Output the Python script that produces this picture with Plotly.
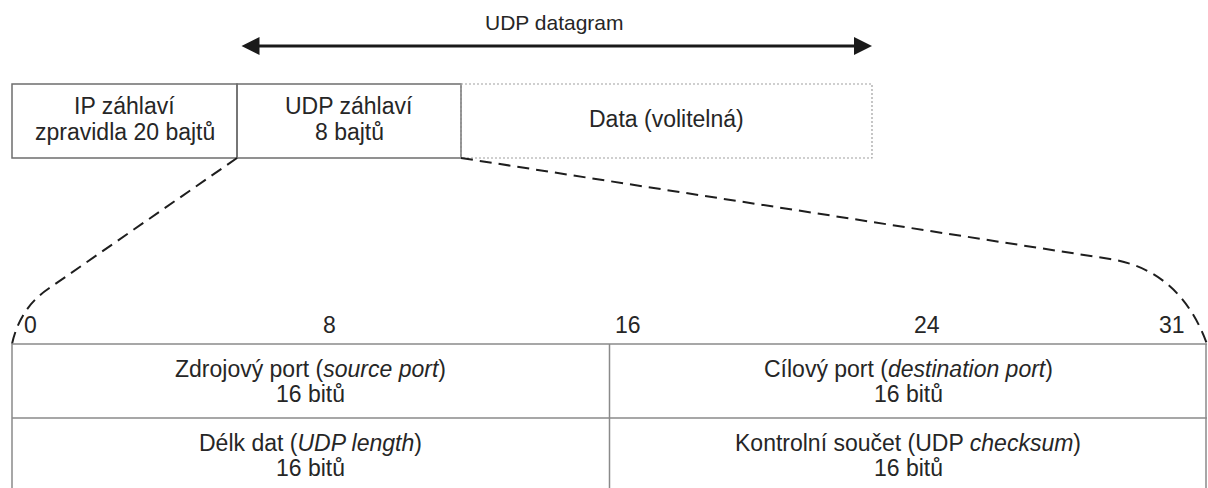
import plotly.graph_objects as go

# ---------------- data ----------------
datagram_label = "UDP datagram"
top_labels = [["IP záhlaví", "zpravidla 20 bajtů"], ["UDP záhlaví", "8 bajtů"], ["Data (volitelná)"]]
top_styles = ["solid", "solid", "dot"]
bit_ticks = [0, 8, 16, 24, 31]
word_bits = 32
field_bits = [16, 16]
row1_fields = [["Zdrojový port (<i>source port</i>)", "16 bitů"],
               ["Cílový port (<i>destination port</i>)", "16 bitů"]]
row2_fields = [["Délk dat (<i>UDP length</i>)", "16 bitů"],
               ["Kontrolní součet (UDP <i>checksum</i>)", "16 bitů"]]
rows = [row1_fields, row2_fields]

# ---------------- layout geometry (pixel canvas) ----------------
W, H = 1208, 488
top_edges = [12, 237, 461, 872]
top_y0, top_y1 = 84, 158
arrow_y = 46
table_x0, table_x1 = 12, 1207
table_top = 344
row_h = 74
tick_y = 325
FONT = "Liberation Sans, Arial, sans-serif"
TXT = "#262626"
FS = 23

def bx(bit):
    return table_x0 + bit / word_bits * (table_x1 - table_x0)

fig = go.Figure()
shapes = []
ann = []

# header text + arrow
ann.append(dict(x=554, y=22, text=datagram_label,
                showarrow=False, font=dict(size=21, color=TXT, family=FONT)))
ann.append(dict(x=top_edges[-1], y=arrow_y, ax=top_edges[1] + 3, ay=arrow_y, axref="x", ayref="y",
                xref="x", yref="y", text="", showarrow=True, arrowhead=2, arrowside="end+start",
                arrowsize=1.2, arrowwidth=3, arrowcolor="#1a1a1a", standoff=0, startstandoff=0))

# top boxes
for i, lines in enumerate(top_labels):
    x0, x1 = top_edges[i], top_edges[i + 1]
    if top_styles[i] == "solid":
        shapes.append(dict(type="rect", x0=x0, x1=x1, y0=top_y0, y1=top_y1,
                           line=dict(color="#6e6e6e", width=1.5)))
    else:
        shapes.append(dict(type="rect", x0=x0, x1=x1, y0=top_y0, y1=top_y1,
                           line=dict(color="#a0a0a0", width=1.2, dash="2px,2px")))
    cy = (top_y0 + top_y1) / 2
    n = len(lines)
    for j, t in enumerate(lines):
        yy = cy + (j - (n - 1) / 2) * 26 - 2
        ann.append(dict(x=(x0 + x1) / 2, y=yy, text=t, showarrow=False,
                        font=dict(size=FS, color=TXT, family=FONT)))

# dashed connector lines
dash_line = dict(color="#1e1e1e", width=2, dash="12px,7px")
shapes.append(dict(type="path", path=f"M {top_edges[1]} {top_y1} L 48 289 Q 20 308 {table_x0} {table_top}",
                   line=dash_line))
shapes.append(dict(type="path", path=f"M {top_edges[2]} {top_y1} L 1110 259 Q 1180 270 {table_x1} {table_top}",
                   line=dash_line))

# bit tick labels
for b in bit_ticks:
    if b == bit_ticks[-1]:
        ann.append(dict(x=bx(b + 0.5) - 1, y=tick_y, text=str(b), showarrow=False, xanchor="right",
                        font=dict(size=FS, color=TXT, family=FONT)))
    else:
        ann.append(dict(x=bx(b + 0.5), y=tick_y, text=str(b), showarrow=False,
                        font=dict(size=FS, color=TXT, family=FONT)))

# table
grid = dict(color="#8a8a8a", width=1.5)
bottom = H + 20
shapes.append(dict(type="line", x0=table_x0, x1=table_x1, y0=table_top, y1=table_top, line=grid))
for r in range(1, len(rows)):
    shapes.append(dict(type="line", x0=table_x0, x1=table_x1, y0=table_top + r * row_h,
                       y1=table_top + r * row_h, line=grid))
edges_bits = [0]
for fb in field_bits:
    edges_bits.append(edges_bits[-1] + fb)
for eb in edges_bits:
    xx = bx(eb)
    if eb == word_bits:
        xx -= 1
    shapes.append(dict(type="line", x0=xx, x1=xx, y0=table_top, y1=bottom, line=grid))

for r, fields in enumerate(rows):
    ry = table_top + r * row_h
    for c, lines in enumerate(fields):
        cx = (bx(edges_bits[c]) + bx(edges_bits[c + 1])) / 2
        for j, t in enumerate(lines):
            ann.append(dict(x=cx, y=ry + 25 + j * 25, text=t, showarrow=False,
                            font=dict(size=FS, color=TXT, family=FONT)))

fig.update_layout(
    width=W, height=H, margin=dict(l=0, r=0, t=0, b=0),
    paper_bgcolor="white", plot_bgcolor="white",
    xaxis=dict(range=[0, W], visible=False, fixedrange=True),
    yaxis=dict(range=[H, 0], visible=False, fixedrange=True),
    shapes=shapes, annotations=ann, showlegend=False,
)
fig.write_html("out.html", config={"displayModeBar": False},
               post_script="document.body.style.margin='0';document.body.style.overflow='hidden';")
